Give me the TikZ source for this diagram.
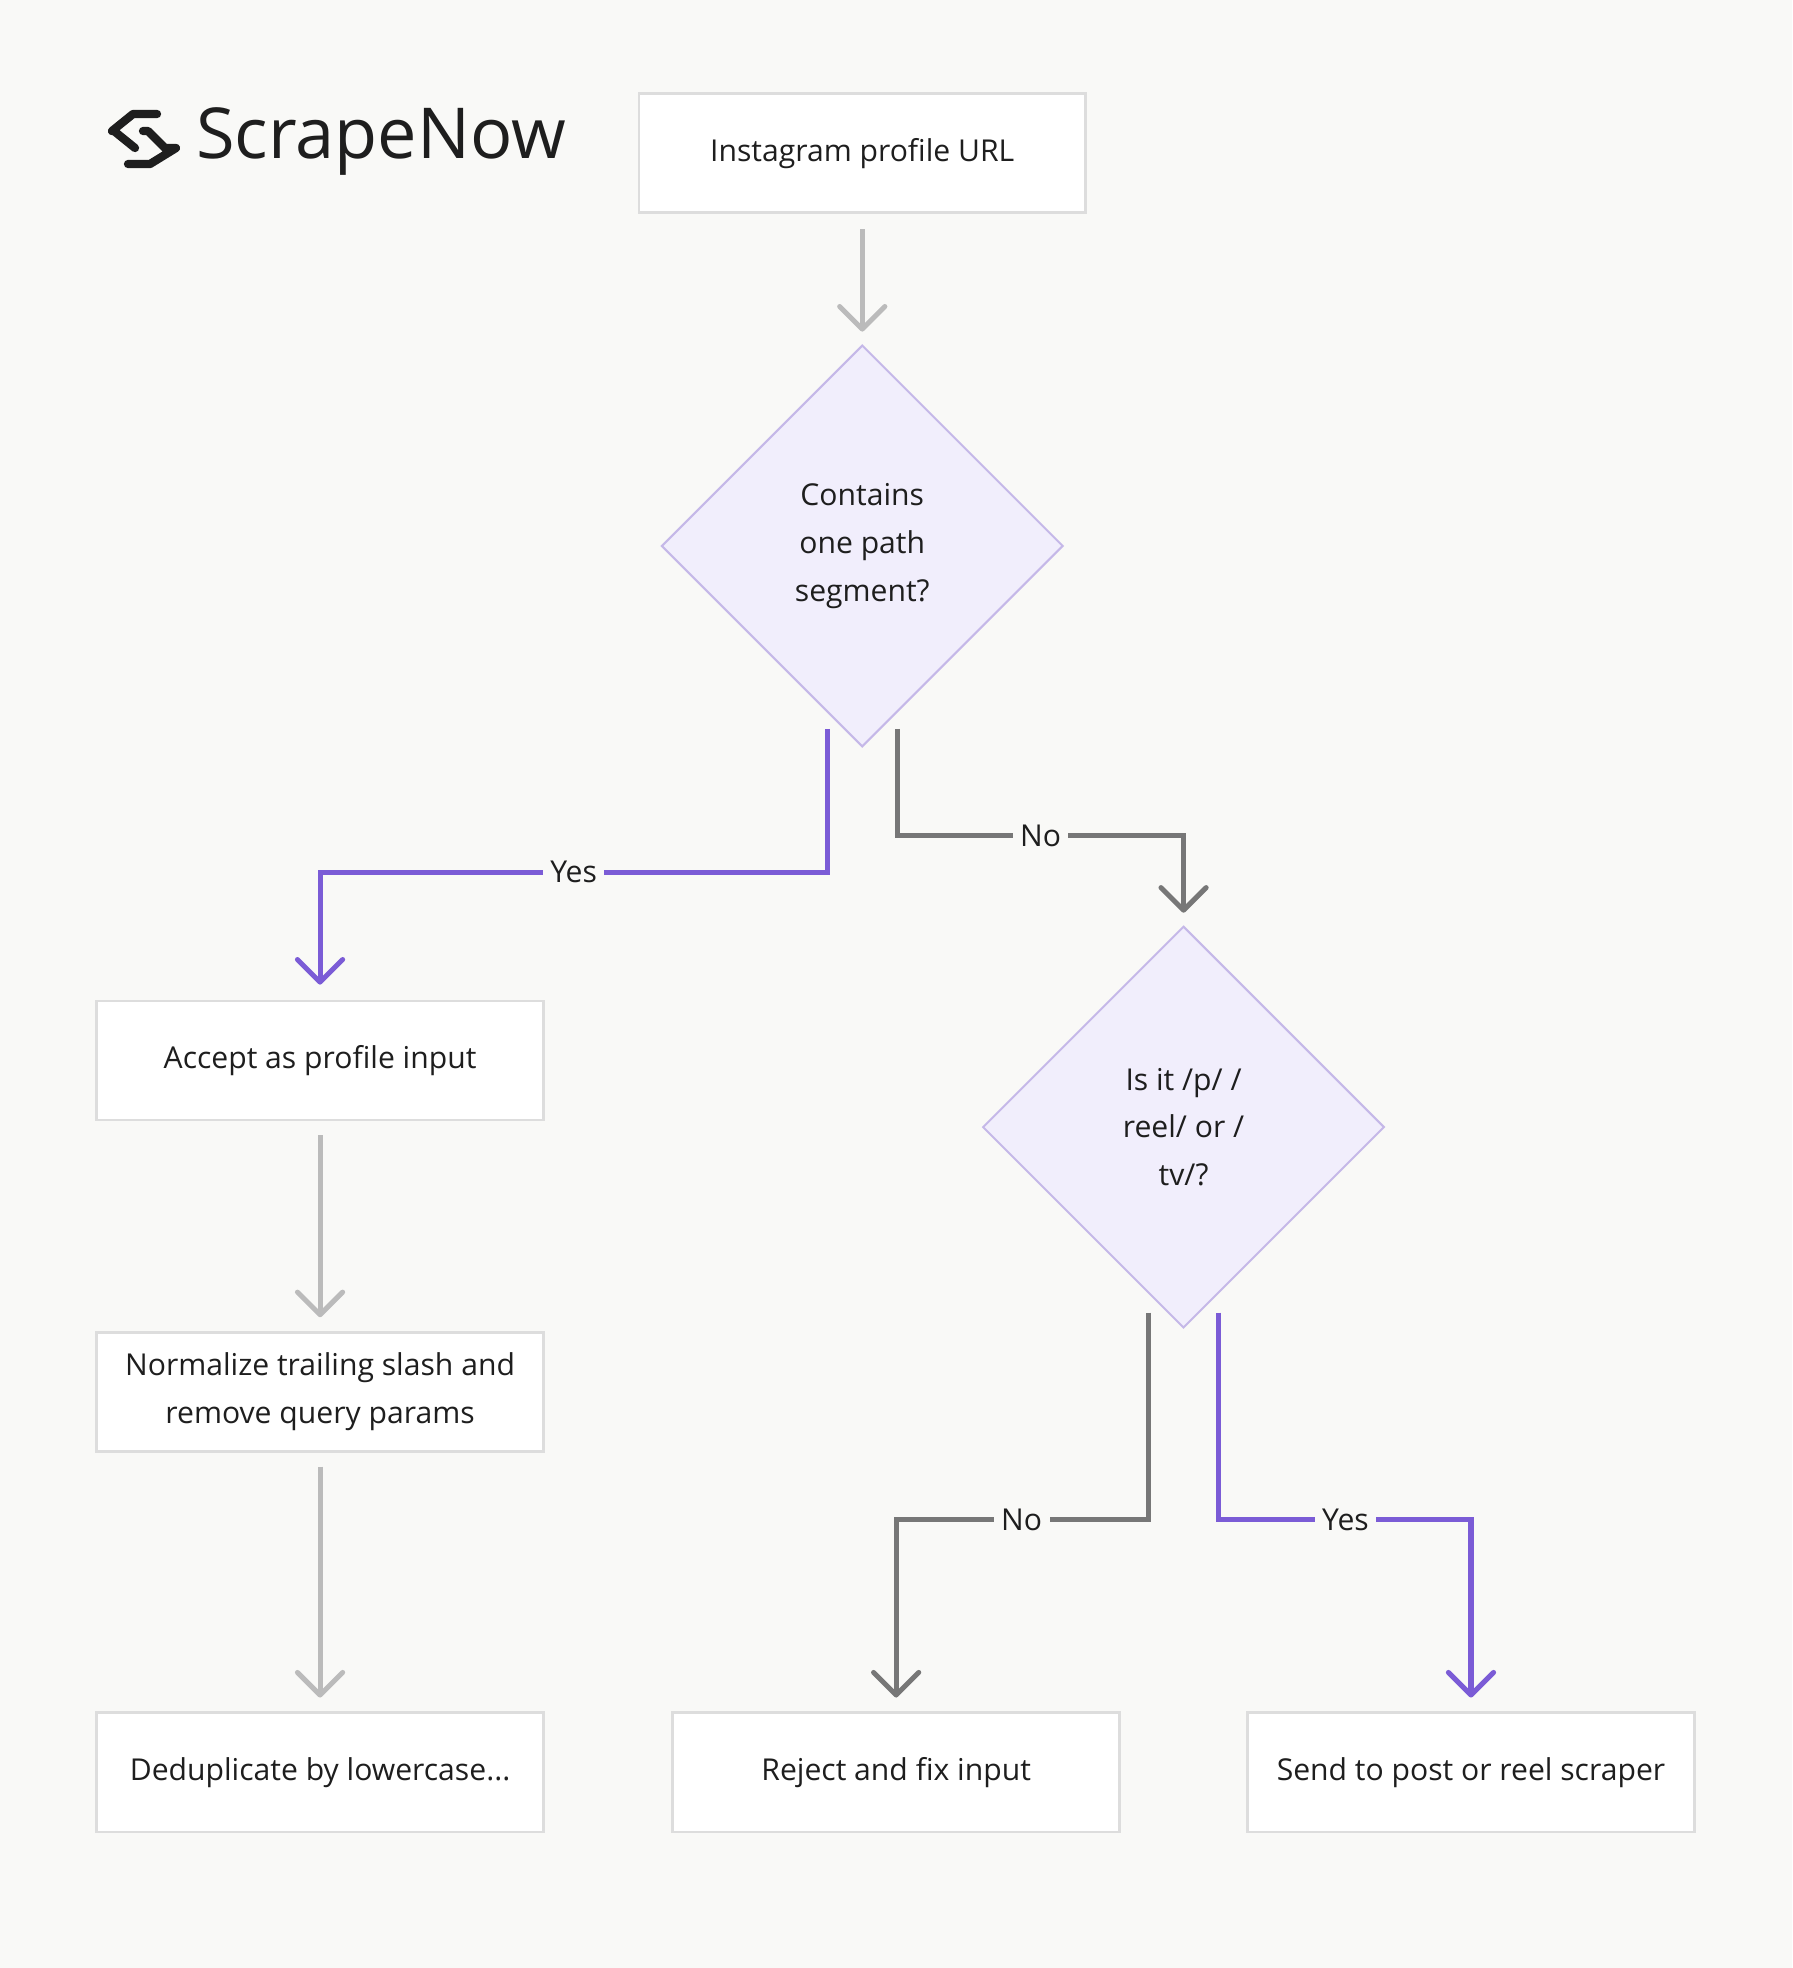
\documentclass[tikz,border=0pt]{standalone}
\usepackage{fontspec}
\setmainfont{Open Sans}
\usetikzlibrary{shapes.geometric,arrows.meta}
\definecolor{bg}{HTML}{F9F9F7}
\definecolor{pur}{HTML}{7B5CD6}
\definecolor{dg}{HTML}{777777}
\definecolor{lg}{HTML}{BBBBBB}
\definecolor{dfill}{HTML}{F1EEFC}
\definecolor{dbord}{HTML}{C5B8E8}
\definecolor{bbord}{HTML}{DDDDDD}
\definecolor{txt}{HTML}{1E1E1E}
\begin{document}
\begin{tikzpicture}[x=0.5pt,y=-0.5pt,
  box/.style={draw=bbord,line width=1pt,fill=white,minimum width=178pt,minimum height=47.5pt,align=center,font=\fontsize{12}{19}\selectfont,text=txt,inner sep=0pt},
  dia/.style={diamond,draw=dbord,line width=0.8pt,fill=dfill,minimum width=160pt,minimum height=160pt,align=center,font=\fontsize{12}{19}\selectfont,text=txt,inner sep=0pt,aspect=1},
  tip/.style={-{Straight Barb[length=9pt,width=18pt,line cap=round,round]}},
  lgl/.style={draw=lg,line width=2pt,tip},
  dgl/.style={draw=dg,line width=2pt,tip},
  pul/.style={draw=pur,line width=2pt,tip},
  lab/.style={fill=bg,font=\fontsize{12}{14}\selectfont,text=txt,inner sep=3pt}]
\fill[bg] (0,0) rectangle (1428,1568);
\useasboundingbox (0,0) rectangle (1428,1568);
% logo
\begin{scope}[x=0.3984pt,y=-0.3984pt,line width=3.3pt,line cap=round,line join=round,draw=txt]
\draw (157,114) -- (133,114) -- (112,131) -- (114,131) -- (135,148);
\draw (143,131) -- (148,131) -- (165,148) -- (176,148) -- (150,164) -- (128,164);
\end{scope}
\node[anchor=west,font=\fontsize{28}{28}\selectfont,text=txt,inner sep=0pt] (logo) at (156,113) {ScrapeNow};
% nodes
\node[box] (url) at (687,122) {Instagram profile URL};
\node[dia] (d1) at (687,435) {Contains\\one path\\segment?};
\node[dia] (d2) at (943,898) {Is it /p/ /\\reel/ or /\\tv/?};
\node[box] (acc) at (255,845) {Accept as profile input};
\node[box] (norm) at (255,1109) {Normalize trailing slash and\\remove query params};
\node[box] (dedup) at (255,1412) {Deduplicate by lowercase...};
\node[box] (rej) at (714,1412) {Reject and fix input};
\node[box] (send) at (1172,1412) {Send to post or reel scraper};
% connectors
\draw[lgl] ([yshift=-6pt]url.south) -- ([yshift=5pt]d1.north);
\draw[pul] ([xshift=-14pt,yshift=7.5pt]d1.south) |- (acc.north |- 0,695) -- ([yshift=6pt]acc.north);
\node[lab] (y1) at (457,695) {Yes};
\draw[dgl] ([xshift=14pt,yshift=7.5pt]d1.south) |- (d2.north |- 0,666) -- ([yshift=5pt]d2.north);
\node[lab] (n1) at (829,666) {No};
\draw[lgl] ([yshift=-5.5pt]acc.south) -- ([yshift=5.5pt]norm.north);
\draw[lgl] ([yshift=-5.5pt]norm.south) -- ([yshift=5.5pt]dedup.north);
\draw[dgl] ([xshift=-14pt,yshift=6.5pt]d2.south) |- (rej.north |- 0,1211) -- ([yshift=5.5pt]rej.north);
\node[lab] (n2) at (814,1211) {No};
\draw[pul] ([xshift=14pt,yshift=6.5pt]d2.south) |- (send.north |- 0,1211) -- ([yshift=5.5pt]send.north);
\node[lab] (y2) at (1072,1211) {Yes};
\end{tikzpicture}
\end{document}
